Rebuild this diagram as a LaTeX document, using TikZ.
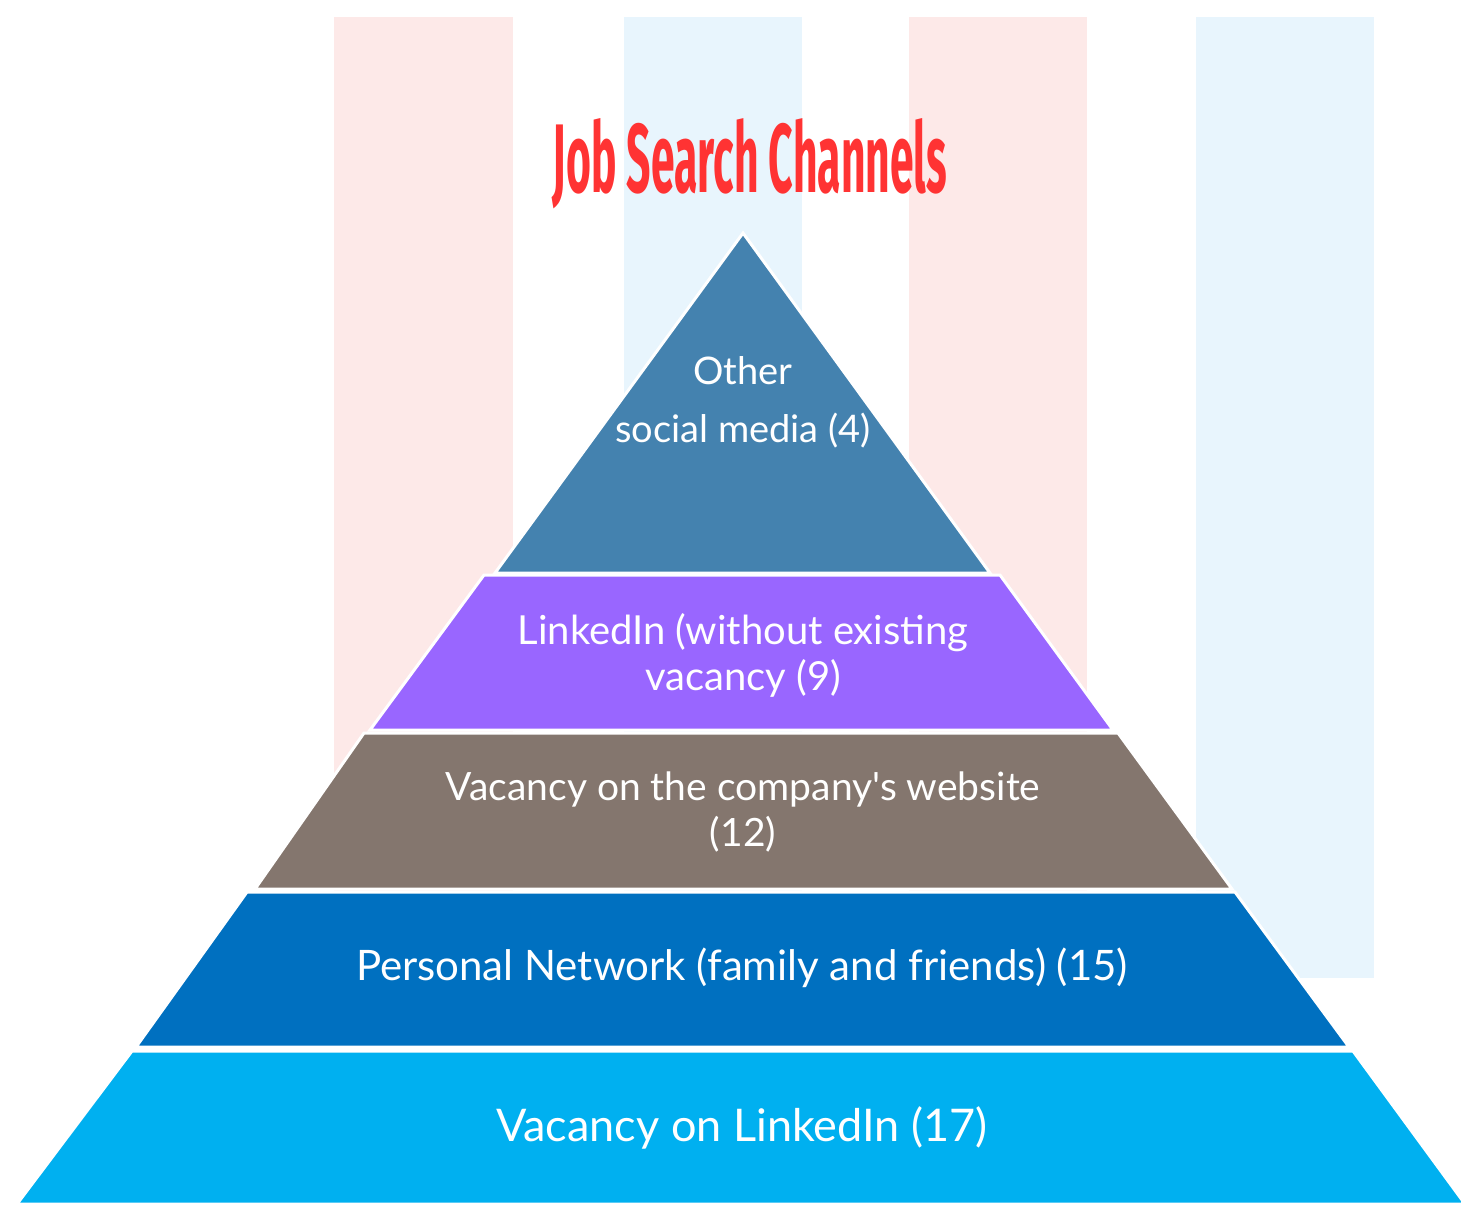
\documentclass[tikz,border=0pt]{standalone}
\usepackage{fontspec}
\usepackage{graphicx}
\setmainfont{Lato}[Ligatures=TeXOff]
\newfontfamily\titlefont{Fira Sans}
\definecolor{pinkstripe}{RGB}{253,233,232}
\definecolor{bluestripe}{RGB}{232,245,253}
\definecolor{tierA}{RGB}{68,130,175}
\definecolor{tierB}{RGB}{153,102,255}
\definecolor{tierC}{RGB}{132,118,110}
\definecolor{tierD}{RGB}{0,112,192}
\definecolor{tierE}{RGB}{0,176,240}
\definecolor{titlered}{RGB}{255,51,51}
\tikzset{
  tier/.style={draw=white, line width=3pt, line join=miter},
  lbl/.style={text=white, align=center, inner sep=0pt},
}
\begin{document}
\begin{tikzpicture}[x=1pt,y=-1pt]
\useasboundingbox (0,0) rectangle (1461,1213);
% background stripes
\fill[pinkstripe] (334,17) rectangle (513,978);
\fill[bluestripe] (624,17) rectangle (802,978);
\fill[pinkstripe] (909,17) rectangle (1087,978);
\fill[bluestripe] (1196,17) rectangle (1374,978);
% title
\node[anchor=base, text=titlered, inner sep=0pt] (title) at (750,192)
  {\resizebox{394pt}{74pt}{\titlefont\bfseries Job Search Channels}};
% tiers
\filldraw[tier, fill=tierA] (743,233) -- (990,573) -- (495,573) -- cycle;
\filldraw[tier, fill=tierB] (484,575) -- (1000,575) -- (1113,730) -- (370,730) -- cycle;
\filldraw[tier, fill=tierC] (364,733) -- (1118,733) -- (1232,889) -- (255,889) -- cycle;
\filldraw[tier, fill=tierD] (247,892) -- (1235,892) -- (1349,1047) -- (136,1047) -- cycle;
\filldraw[tier, fill=tierE] (132,1051) -- (1353,1051) -- (1465,1204) -- (17,1204) -- cycle;
% labels
\node[lbl, font=\fontsize{38}{58}\selectfont] (l1) at (743,402) {Other\\social media (4)};
\node[lbl, font=\fontsize{40}{46}\selectfont] (l2) at (743,655) {LinkedIn (without existing\\vacancy (9)};
\node[lbl, font=\fontsize{39}{46}\selectfont] (l3) at (743,812) {Vacancy on the company's website\\(12)};
\node[lbl, font=\fontsize{42}{48}\selectfont] (l4) at (742,968) {Personal Network (family and friends) (15)};
\node[lbl, font=\fontsize{45}{48}\selectfont] (l5) at (742,1128) {Vacancy on LinkedIn (17)};
\end{tikzpicture}
\end{document}
